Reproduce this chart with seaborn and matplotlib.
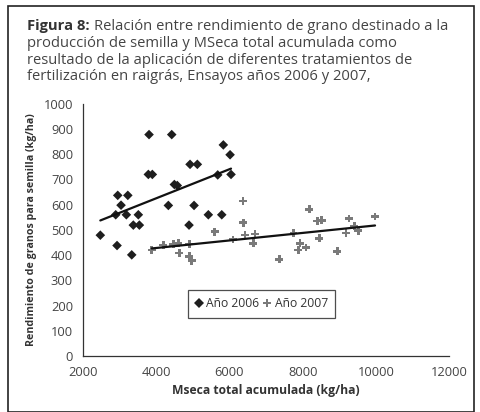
import numpy as np
import pandas as pd
import matplotlib
matplotlib.use("Agg")
import matplotlib.pyplot as plt
import seaborn as sns
from matplotlib.lines import Line2D
from matplotlib.patches import Rectangle

# ================================================
#  Datos
# ================================================
x_2006 = [2480, 2936, 2900, 2955, 3045, 3190, 3230, 3337, 3380, 3517, 3545, 3790, 3809, 3899,
          4336, 4428, 4500, 4580, 4900, 4928, 5037, 5127, 5427, 5683, 5793, 5836, 6020, 6046]
y_2006 = [479, 438, 560, 637, 598, 560, 637, 401, 519, 560, 519, 720, 878, 720,
          597, 878, 680, 676, 519, 760, 597, 760, 560, 718, 560, 837, 798, 720]

x_2007 = [3883, 4200, 4473, 4610, 4636, 4910, 4910, 4970, 5600, 6100, 6370, 6382, 6428, 6655, 6700,
          7365, 7750, 7883, 7929, 8093, 8183, 8400, 8456, 8521, 8947, 9184, 9260, 9410, 9520, 9975]
y_2007 = [421, 440, 443, 447, 408, 444, 395, 378, 493, 462, 615, 529, 480, 447, 484,
          383, 487, 420, 447, 430, 582, 535, 467, 538, 415, 487, 545, 515, 497, 553]

series = ["Año 2006", "Año 2007"]
x_ticks = [2000, 4000, 6000, 8000, 10000, 12000]
y_ticks = [0, 100, 200, 300, 400, 500, 600, 700, 800, 900, 1000]

df = pd.concat([
    pd.DataFrame({"mseca": x_2006, "rend": y_2006, "anio": series[0]}),
    pd.DataFrame({"mseca": x_2007, "rend": y_2007, "anio": series[1]}),
])

# ================================================
#  Grafico
# ================================================
sns.set_style("white")
plt.rcParams['font.family'] = ['Open Sans', 'DejaVu Sans']

fig = plt.figure(figsize=(4.81, 4.12), dpi=100)
ax = fig.add_axes([0.172, 0.136, 0.762, 0.612])

colores = {series[0]: "#1e1e1e", series[1]: "#7a7a7a"}
marcas = {series[0]: "D", series[1]: "P"}
tamanos = {series[0]: 24, series[1]: 32}

for s in series:
    d = df[df["anio"] == s]
    sns.scatterplot(data=d, x="mseca", y="rend", ax=ax, marker=marcas[s],
                    color=colores[s], s=tamanos[s], edgecolor="none", legend=False)
    sns.regplot(data=d, x="mseca", y="rend", ax=ax, scatter=False, ci=None,
                color="#111111", line_kws={"linewidth": 1.6})

ax.set_xlim(2000, 12000)
ax.set_ylim(0, 1000)
ax.set_xticks(x_ticks)
ax.set_yticks(y_ticks)
ax.tick_params(axis="both", direction="out", length=4, width=0.9, color="#333333",
               labelsize=9.3, labelcolor="#444444", pad=3)
for lado in ["top", "right"]:
    ax.spines[lado].set_visible(False)
for lado in ["left", "bottom"]:
    ax.spines[lado].set_color("#333333")
    ax.spines[lado].set_linewidth(0.9)

ax.set_xlabel("Mseca total acumulada (kg/ha)", fontsize=8.7, fontweight="bold",
              color="#333333", labelpad=4)
ax.set_ylabel("Rendimiento de granos para semilla (kg/ha)", fontsize=7.7,
              fontweight="bold", color="#333333", labelpad=5)

# Leyenda
handles = [Line2D([], [], marker=marcas[s], color=colores[s], linestyle="none",
                  markersize=4.8 if s == series[0] else 6, markeredgewidth=0)
           for s in series]
leg = ax.legend(handles, series, loc="upper left", bbox_to_anchor=(0.27, 0.285),
                ncol=2, frameon=True, fancybox=False, fontsize=8.7, handlelength=0.6,
                handletextpad=0.3, columnspacing=0.4, borderpad=0.6,
                labelcolor="#333333")
leg.get_frame().set_edgecolor("#222222")
leg.get_frame().set_linewidth(0.9)

# Titulo
lineas = ["producción de semilla y MSeca total acumulada como",
          "resultado de la aplicación de diferentes tratamientos de",
          "fertilización en raigrás, Ensayos años 2006 y 2007,"]
fs_titulo = 10.6
t = fig.text(27 / 481, 1 - 30 / 412, "Figura 8:", fontsize=fs_titulo, fontweight="bold",
             color="#333333", va="baseline")
fig.canvas.draw()
bb = t.get_window_extent()
fig.text((bb.x1 + 4) / 481, 1 - 30 / 412, "Relación entre rendimiento de grano destinado a la",
         fontsize=fs_titulo, color="#444444", va="baseline")
for i, texto in enumerate(lineas):
    fig.text(27 / 481, 1 - (47 + 16.5 * i) / 412, texto, fontsize=fs_titulo,
             color="#444444", va="baseline")

# Marco exterior
fig.patches.append(Rectangle((8 / 481, 0.0), 466 / 481, 1 - 6 / 412,
                             transform=fig.transFigure, fill=False,
                             edgecolor="#222222", linewidth=1.2))

fig.savefig("out.png", dpi=100)
